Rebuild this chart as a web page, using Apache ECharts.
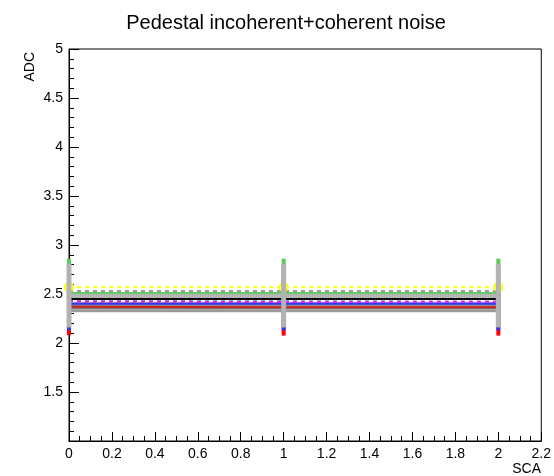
<!DOCTYPE html>
<html>
<head>
<meta charset="utf-8">
<script src="https://cdn.jsdelivr.net/npm/echarts@6/dist/echarts.min.js"></script>
<style>
  html, body { margin: 0; padding: 0; background: #fff; }
  #chart { width: 554px; height: 476px; }
</style>
</head>
<body>
<div id="chart"></div>
<script>
// SCA points on the x axis
const sca = [0, 1, 2]

// mean ADC of each channel graph
const grayLight = [2.485, 2.485, 2.485]
const grayMid = [2.395, 2.395, 2.395]
const grayDark = [2.36, 2.36, 2.36]
const grayLow = [2.33, 2.33, 2.33]
const redVals = [2.37, 2.365, 2.365]
const blueVals = [2.40, 2.40, 2.40]
const cyanVals = [2.425, 2.425, 2.42]
const magentaVals = [2.425, 2.42, 2.42]
const blackVals = [2.45, 2.45, 2.45]
const greenVals = [2.51, 2.51, 2.51]
const grayDashVals = [2.53, 2.53, 2.53]
const yellowVals = [2.57, 2.57, 2.57]

// error bar half widths
const redErr = [0.29, 0.29, 0.29]
const blueErr = [0.27, 0.27, 0.27]
const greenErr = [0.35, 0.35, 0.35]
const grayErr = [0.325, 0.325, 0.325]

const xTicks = [0, 0.2, 0.4, 0.6, 0.8, 1, 1.2, 1.4, 1.6, 1.8, 2, 2.2]
const yTicks = [1, 1.5, 2, 2.5, 3, 3.5, 4, 4.5, 5]

const font = 'Liberation Sans, Arial, Helvetica, sans-serif'

const lineSeries = (vals, color, width, dashed, z) => ({
  type: 'line',
  data: sca.map((x, i) => [x, vals[i]]),
  symbol: 'none',
  z: z,
  lineStyle: { color: color, width: width, type: dashed ? [4, 4] : 'solid' },
  animation: false
})

const errSeries = (vals, errs, color, width, z) => ({
  type: 'custom',
  data: sca.map((x, i) => [x, vals[i] - errs[i], vals[i] + errs[i]]),
  clip: false,
  z: z,
  renderItem: (params, api) => {
    const lo = api.coord([api.value(0), api.value(1)])
    const hi = api.coord([api.value(0), api.value(2)])
    return {
      type: 'line',
      shape: { x1: lo[0], y1: lo[1], x2: hi[0], y2: hi[1] },
      style: { stroke: color, lineWidth: width }
    }
  },
  animation: false
})

const chart = echarts.init(document.getElementById('chart'))

chart.setOption({
  animation: false,
  title: {
    text: 'Pedestal incoherent+coherent noise',
    left: 281,
    top: 8,
    textAlign: 'center',
    textStyle: { fontFamily: font, fontSize: 20, fontWeight: 'normal', color: '#000' }
  },
  grid: {
    left: 69,
    right: 12,
    top: 49,
    bottom: 35,
    show: true,
    borderColor: '#000',
    borderWidth: 1
  },
  xAxis: {
    type: 'value',
    min: 0,
    max: 2.2,
    interval: 0.2,
    axisLine: { onZero: false, lineStyle: { color: '#000' } },
    axisTick: { inside: true, length: 9, lineStyle: { color: '#000' } },
    minorTick: { show: true, splitNumber: 4, length: 5, lineStyle: { color: '#000' } },
    splitLine: { show: false },
    axisLabel: {
      fontFamily: font, fontSize: 14, color: '#000', margin: 6,
      hideOverlap: false, showMinLabel: true, showMaxLabel: true,
      formatter: v => {
        const t = xTicks.find(k => Math.abs(k - v) < 1e-6)
        return t === undefined ? '' : String(t)
      }
    }
  },
  yAxis: {
    type: 'value',
    min: 1,
    max: 5,
    interval: 0.5,
    axisLine: { onZero: false, lineStyle: { color: '#000' } },
    axisTick: { inside: true, length: 10, lineStyle: { color: '#000' } },
    minorTick: { show: true, splitNumber: 5, length: 5, lineStyle: { color: '#000' } },
    splitLine: { show: false },
    axisLabel: {
      fontFamily: font, fontSize: 14, color: '#000', margin: 6,
      hideOverlap: false, showMinLabel: false, showMaxLabel: true,
      formatter: v => {
        const t = yTicks.find(k => Math.abs(k - v) < 1e-6)
        return t === undefined ? '' : String(t)
      }
    }
  },
  graphic: [
    {
      type: 'text',
      x: 23,
      y: 52,
      rotation: Math.PI / 2,
      style: { text: 'ADC', font: '14px ' + font, fill: '#000', align: 'right', verticalAlign: 'top' }
    },
    {
      type: 'text',
      x: 541,
      y: 462,
      style: { text: 'SCA', font: '14px ' + font, fill: '#000', align: 'right', verticalAlign: 'top' }
    }
  ],
  series: [
    errSeries(redVals, redErr, '#ff0000', 4, 2),
    errSeries(blueVals, blueErr, '#3333ff', 4, 2),
    errSeries(greenVals, greenErr, '#55cc55', 4, 2),
    lineSeries(grayLight, '#b5b5b5', 5, false, 3),
    lineSeries(grayMid, '#8c8c8c', 4, false, 3),
    lineSeries(grayDark, '#7a7a7a', 3, false, 3),
    lineSeries(grayLow, '#9a9a9a', 3, false, 3),
    lineSeries(blueVals, '#3333ff', 2, false, 4),
    lineSeries(redVals, '#cc2222', 2, false, 4),
    lineSeries(cyanVals, '#22dddd', 2, true, 4),
    lineSeries(magentaVals, '#ff00ff', 2, true, 4),
    lineSeries(blackVals, '#000000', 2, false, 4),
    lineSeries(greenVals, '#66cc66', 2, false, 4),
    lineSeries(grayDashVals, '#999999', 2, true, 4),
    Object.assign(lineSeries(yellowVals, '#ffff00', 2, true, 4), {
      symbol: 'emptyCircle',
      symbolSize: 8,
      itemStyle: { color: '#ffff00', borderWidth: 1.5 }
    }),
    errSeries(grayLight, grayErr, '#b3b3b3', 5, 6)
  ]
})
</script>
</body>
</html>
